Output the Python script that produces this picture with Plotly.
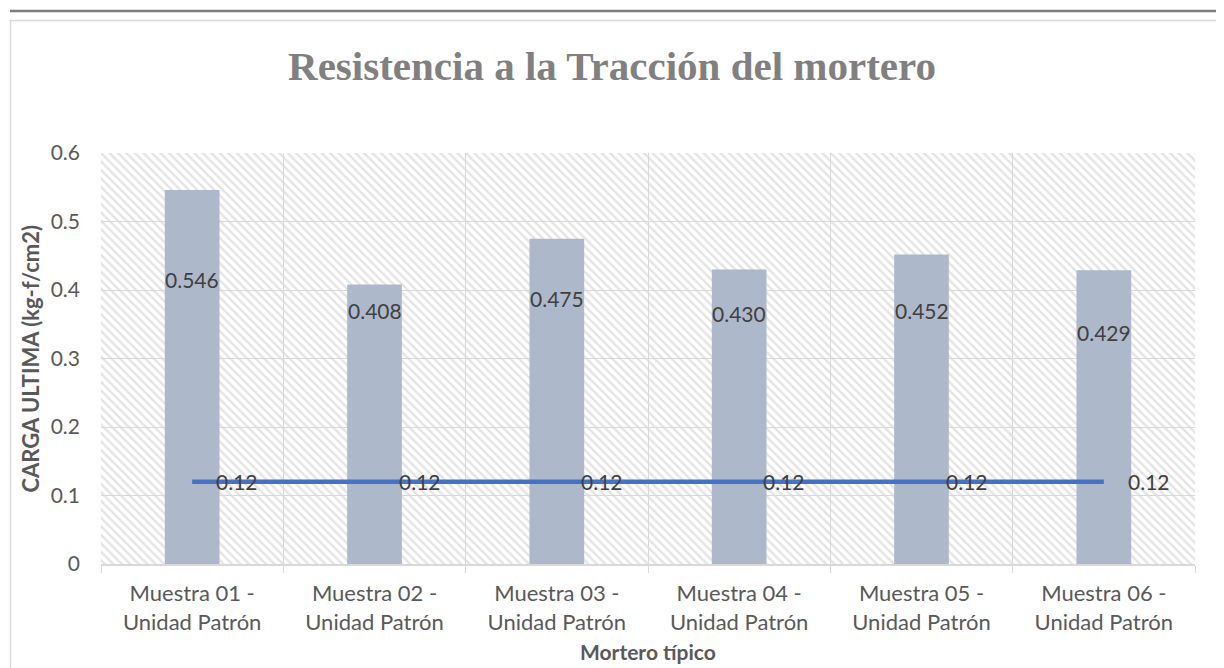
import plotly.graph_objects as go

# ---- data ----
categories = ["Muestra 01 - Unidad Patrón", "Muestra 02 - Unidad Patrón",
              "Muestra 03 - Unidad Patrón", "Muestra 04 - Unidad Patrón",
              "Muestra 05 - Unidad Patrón", "Muestra 06 - Unidad Patrón"]
carga_ultima = [0.546, 0.408, 0.475, 0.430, 0.452, 0.429]
referencia = [0.12, 0.12, 0.12, 0.12, 0.12, 0.12]
tick_labels = [c.replace(" - ", " -<br>") for c in categories]

# ---- style / layout ----
OFF = 8                      # page body margin of the html page
W, H = 1224 - OFF, 668 - OFF
L, R, T, B = 101 - OFF, 29, 153 - OFF, 104
y_range = [0, 0.6]
# vertical position (in axis units) where each bar's label sits
bar_label_pos = [0.415, 0.370, 0.388, 0.365, 0.370, 0.338]

FONT = "Lato"
TXT = "#595959"
LBL = "#404040"
GRID = "#d9d9d9"

pw = W - L - R
ph = H - T - B
def px_x(px):   # screen pixel -> paper x
    return (px - OFF - L) / pw
def px_y(py):   # screen pixel -> paper y
    return (H - B - (py - OFF)) / ph

fig = go.Figure()

# hatched plot-area background (drawn on hidden subplot underneath)
fig.add_trace(go.Bar(
    x=[0], y=[y_range[1]], width=[1], xaxis="x", yaxis="y",
    marker=dict(color="white", line=dict(width=0),
                pattern=dict(shape="\\", fgcolor="#c8c8c8", bgcolor="white",
                             size=6, solidity=0.4)),
    hoverinfo="skip", showlegend=False))

fig.add_trace(go.Bar(
    x=categories, y=carga_ultima, xaxis="x2", yaxis="y2",
    marker=dict(color="#adb9ca", line=dict(width=0)),
    showlegend=False))

fig.add_trace(go.Scatter(
    x=categories, y=referencia, xaxis="x2", yaxis="y2", mode="lines",
    line=dict(color="#4472c4", width=4.5), showlegend=False))

annotations = []
for c, v, p in zip(categories, carga_ultima, bar_label_pos):
    annotations.append(dict(x=c, y=p, xref="x2", yref="y2", text=f"{v:.3f}",
                            showarrow=False, xanchor="center", yanchor="middle",
                            font=dict(family=FONT, size=21, color=LBL)))
for c, v in zip(categories, referencia):
    annotations.append(dict(x=c, y=v, xref="x2", yref="y2", text=f"{v:.2f}",
                            showarrow=False, xanchor="left", yanchor="middle",
                            xshift=22,
                            font=dict(family=FONT, size=21, color=LBL)))

annotations.append(dict(x=px_x(30), y=0.5, xref="paper", yref="paper",
                        text="<b>CARGA ULTIMA (kg-f/cm2)</b>", textangle=-90,
                        showarrow=False, xanchor="center", yanchor="middle",
                        font=dict(family=FONT, size=22, color=TXT)))
annotations.append(dict(x=0.5, y=px_y(651), xref="paper", yref="paper",
                        text="<b>Mortero típico</b>",
                        showarrow=False, xanchor="center", yanchor="middle",
                        font=dict(family=FONT, size=21, color=TXT)))

shapes = [
    dict(type="line", xref="paper", yref="paper",
         x0=px_x(10), x1=px_x(1224 + 5), y0=px_y(11), y1=px_y(11),
         line=dict(color="#7f7f7f", width=2.5)),
    dict(type="rect", xref="paper", yref="paper",
         x0=px_x(10.5), x1=px_x(1224 + 20), y0=px_y(20.5), y1=px_y(668 + 20),
         line=dict(color="#d9d9d9", width=1.5), fillcolor="rgba(0,0,0,0)"),
]

fig.update_layout(
    width=W, height=H,
    margin=dict(l=L, r=R, t=T, b=B, pad=0),
    paper_bgcolor="white", plot_bgcolor="rgba(0,0,0,0)",
    bargap=0.7,
    title=dict(text="<b>Resistencia a la Tracción del mortero</b>",
               x=0.5 - OFF / 2 / W, xref="container", xanchor="center",
               y=1 - (66 - OFF) / H, yref="container", yanchor="middle",
               font=dict(family="Liberation Serif", size=41, color="#808080")),
    xaxis=dict(domain=[0, 1], range=[-0.5, 0.5], visible=False, fixedrange=True),
    yaxis=dict(domain=[0, 1], range=y_range, visible=False, fixedrange=True),
    xaxis2=dict(domain=[0, 1], anchor="y2", type="category",
                range=[-0.5, len(categories) - 0.5],
                tickvals=categories, ticktext=tick_labels,
                tickson="boundaries", showgrid=True, gridcolor=GRID, gridwidth=1,
                ticks="outside", ticklen=7, tickcolor=GRID, tickwidth=1,
                showline=True, linecolor=GRID, linewidth=1.5,
                ticklabelstandoff=9,
                tickfont=dict(family=FONT, size=22, color=TXT)),
    yaxis2=dict(domain=[0, 1], anchor="x2", range=y_range, dtick=0.1,
                showgrid=True, gridcolor=GRID, gridwidth=1, zeroline=False,
                showline=False, ticks="", ticklabelstandoff=20,
                tickfont=dict(family=FONT, size=21, color=TXT)),
    annotations=annotations,
    shapes=shapes,
)

fig.write_html("out.html")
